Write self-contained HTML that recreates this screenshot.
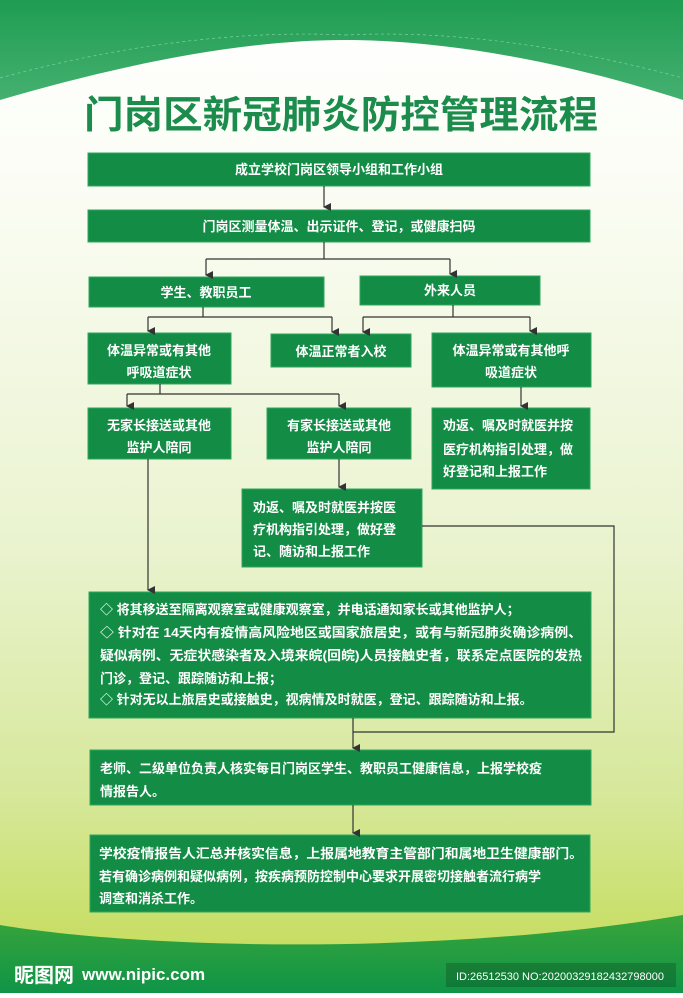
<!DOCTYPE html>
<html><head><meta charset="utf-8"><style>
html,body{margin:0;padding:0}
body{width:683px;height:993px;overflow:hidden;font-family:"Liberation Sans","Noto Sans CJK SC",sans-serif}
svg text{font-family:"Liberation Sans","Noto Sans CJK SC",sans-serif}
</style></head><body>
<svg width="683" height="993" viewBox="0 0 683 993" xmlns="http://www.w3.org/2000/svg">
<defs>
<linearGradient id="bg" x1="0" y1="0" x2="0" y2="1">
<stop offset="0" stop-color="#ffffff"/><stop offset="0.18" stop-color="#fbfdf5"/>
<stop offset="0.55" stop-color="#eaf3cf"/><stop offset="0.8" stop-color="#d6e89a"/><stop offset="1" stop-color="#c2da50"/>
</linearGradient>
<linearGradient id="top" x1="0" y1="0" x2="0" y2="1">
<stop offset="0" stop-color="#1f9d52"/><stop offset="1" stop-color="#45b070"/>
</linearGradient>
<linearGradient id="bot" x1="0" y1="0" x2="0" y2="1">
<stop offset="0" stop-color="#3aa53a"/><stop offset="1" stop-color="#0f9447"/>
</linearGradient>
<marker id="a" markerWidth="8" markerHeight="8" refX="4" refY="7" orient="auto" markerUnits="userSpaceOnUse"><path d="M0,0 L8,0 L4,8 Z" fill="#333"/></marker>
</defs>
<rect width="683" height="993" fill="url(#bg)"/>
<path d="M0,0 H683 V100 C560,60 440,40 345,40 C240,40 120,65 0,100 Z" fill="url(#top)"/>
<path d="M0,78 C120,45 240,30 345,35 M345,35 C450,30 560,45 683,78" stroke="#7fd0a0" stroke-width="0.7" stroke-dasharray="3 3" fill="none"/>
<path d="M0,925 C150,950 450,955 683,915 V993 H0 Z" fill="url(#bot)"/>
<text x="341" y="128" text-anchor="middle" font-size="38" font-weight="bold" fill="#1c8c4c" textLength="514" lengthAdjust="spacingAndGlyphs">门岗区新冠肺炎防控管理流程</text>
<g fill="#138c45" stroke="#2ca85c" stroke-width="1">
<rect x="88" y="153" width="502" height="33"/>
<rect x="88" y="210" width="502" height="32"/>
<rect x="89" y="277" width="235" height="30"/>
<rect x="360" y="276" width="180" height="29"/>
<rect x="88" y="333" width="143" height="51"/>
<rect x="271" y="334" width="140" height="33"/>
<rect x="432" y="333" width="159" height="54"/>
<rect x="88" y="408" width="143" height="51"/>
<rect x="267" y="408" width="144" height="51"/>
<rect x="432" y="408" width="158" height="81"/>
<rect x="242" y="489" width="180" height="78"/>
<rect x="89" y="592" width="502" height="126"/>
<rect x="90" y="750" width="501" height="55"/>
<rect x="90" y="835" width="500" height="77"/>
</g>
<g stroke="#333" stroke-width="1.2" fill="none">
<path d="M324,186 V207" marker-end="url(#a)"/>
<path d="M324,242 V259 M206,259 H450"/>
<path d="M206,259 V275" marker-end="url(#a)"/>
<path d="M450,259 V274" marker-end="url(#a)"/>
<path d="M203,307 V317 H332 M148,317 H203"/>
<path d="M148,317 V331" marker-end="url(#a)"/>
<path d="M332,317 V332" marker-end="url(#a)"/>
<path d="M453,305 V317 M363,317 H530"/>
<path d="M363,317 V332" marker-end="url(#a)"/>
<path d="M530,317 V331" marker-end="url(#a)"/>
<path d="M160,384 V394 M127,394 H339"/>
<path d="M127,394 V406" marker-end="url(#a)"/>
<path d="M339,394 V406" marker-end="url(#a)"/>
<path d="M521,387 V406" marker-end="url(#a)"/>
<path d="M339,459 V487" marker-end="url(#a)"/>
<path d="M148,459 V590" marker-end="url(#a)"/>
<path d="M422,526 H614 V732 H353"/>
<path d="M353,718 V748" marker-end="url(#a)"/>
<path d="M353,805 V833" marker-end="url(#a)"/>
</g>
<g fill="#fff" font-size="13" font-weight="bold">
<text x="339" y="174" text-anchor="middle">成立学校门岗区领导小组和工作小组</text>
<text x="339" y="231" text-anchor="middle">门岗区测量体温、出示证件、登记，或健康扫码</text>
<text x="206" y="297" text-anchor="middle">学生、教职员工</text>
<text x="450" y="295" text-anchor="middle">外来人员</text>
<text x="159" y="355" text-anchor="middle">体温异常或有其他</text>
<text x="159" y="377" text-anchor="middle">呼吸道症状</text>
<text x="341" y="356" text-anchor="middle">体温正常者入校</text>
<text x="511" y="355" text-anchor="middle">体温异常或有其他呼</text>
<text x="511" y="377" text-anchor="middle">吸道症状</text>
<text x="159" y="430" text-anchor="middle">无家长接送或其他</text>
<text x="159" y="452" text-anchor="middle">监护人陪同</text>
<text x="339" y="430" text-anchor="middle">有家长接送或其他</text>
<text x="339" y="452" text-anchor="middle">监护人陪同</text>
<text x="443" y="430">劝返、嘱及时就医并按</text>
<text x="443" y="454">医疗机构指引处理，做</text>
<text x="443" y="476">好登记和上报工作</text>
<text x="253" y="512">劝返、嘱及时就医并按医</text>
<text x="253" y="534">疗机构指引处理，做好登</text>
<text x="253" y="556">记、随访和上报工作</text>
<text x="100" y="614">◇ 将其移送至隔离观察室或健康观察室，并电话通知家长或其他监护人；</text>
<text x="100" y="637" textLength="482" lengthAdjust="spacingAndGlyphs">◇ 针对在 14天内有疫情高风险地区或国家旅居史，或有与新冠肺炎确诊病例、</text>
<text x="100" y="660" textLength="482" lengthAdjust="spacingAndGlyphs">疑似病例、无症状感染者及入境来皖(回皖)人员接触史者，联系定点医院的发热</text>
<text x="100" y="683">门诊，登记、跟踪随访和上报；</text>
<text x="100" y="704">◇ 针对无以上旅居史或接触史，视病情及时就医，登记、跟踪随访和上报。</text>
<text x="100" y="773">老师、二级单位负责人核实每日门岗区学生、教职员工健康信息，上报学校疫</text>
<text x="100" y="796">情报告人。</text>
<text x="99" y="858" textLength="484" lengthAdjust="spacingAndGlyphs">学校疫情报告人汇总并核实信息，上报属地教育主管部门和属地卫生健康部门。</text>
<text x="99" y="881">若有确诊病例和疑似病例，按疾病预防控制中心要求开展密切接触者流行病学</text>
<text x="99" y="903">调查和消杀工作。</text>
</g>
<text x="14" y="982" font-size="20" font-weight="bold" fill="#fff">昵图网</text>
<text x="82" y="980" font-size="17" font-weight="bold" fill="#fff">www.nipic.com</text>
<rect x="446" y="963" width="230" height="24" fill="#000" fill-opacity="0.18"/>
<text x="456" y="980" font-size="11" fill="#fff">ID:26512530 NO:20200329182432798000</text>
</svg>
</body></html>
